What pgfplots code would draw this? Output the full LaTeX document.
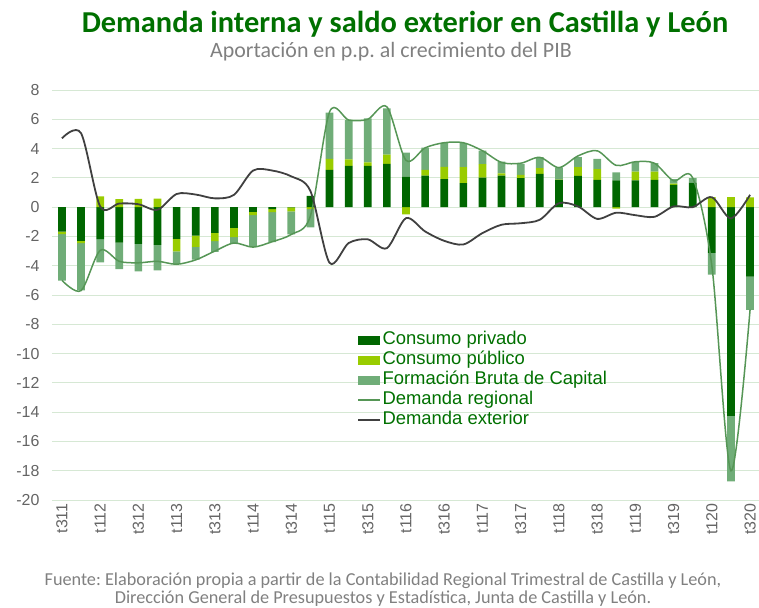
\documentclass[border=0pt]{standalone}
\usepackage{fontspec}
\setmainfont{Liberation Sans}
\newfontfamily\titlefont{Carlito}
\usepackage{pgfplots}
\pgfplotsset{compat=1.18}
\usepackage{pgfplotstable}
\frenchspacing

\definecolor{cpc}{RGB}{0,102,0}
\definecolor{cgc}{RGB}{153,204,0}
\definecolor{fbcc}{RGB}{112,173,120}
\definecolor{regc}{RGB}{86,150,86}
\definecolor{extc}{RGB}{64,64,64}
\definecolor{gridc}{RGB}{214,232,212}
\definecolor{labc}{RGB}{100,100,100}
\definecolor{legc}{RGB}{0,112,0}
\definecolor{titc}{RGB}{0,112,0}
\definecolor{subc}{RGB}{128,128,128}

\pgfplotstableread{
i  cp     cg     fbc    reg    ext
0  -1.68  -0.16  -3.18  -5.0   4.7
1  -2.30  -0.16  -3.22  -5.7   5.05
2  -2.18   0.73  -1.60  -2.95  0.05
3  -2.43   0.55  -1.80  -3.7   0.25
4  -2.50   0.57  -1.89  -3.8   0.2
5  -2.57   0.59  -1.75  -3.7  -0.18
6  -2.16  -0.86  -0.86  -3.9   0.9
7  -1.95  -0.77  -0.86  -3.6   0.86
8  -1.75  -0.57  -0.73  -3.0   0.6
9  -1.41  -0.64  -0.45  -2.45  0.84
10 -0.32  -0.23  -2.18  -2.73  2.5
11 -0.14  -0.20  -2.05  -2.36  2.5
12 -0.02  -0.27  -1.57  -1.86  2.1
13  0.77  -0.14  -1.25  -0.6   1.1
14  2.55   0.75   3.16   6.5  -3.8
15  2.82   0.45   2.68   5.95 -2.45
16  2.82   0.23   3.02   6.0  -2.2
17  2.95   0.64   3.16   6.85 -2.8
18  2.09  -0.50   1.64   3.2  -0.75
19  2.16   0.39   1.52   4.05 -1.66
20  1.91   0.84   1.64   4.4  -2.3
21  1.64   1.09   1.64   4.4  -2.55
22  2.02   0.91   0.93   3.85 -1.77
23  2.16   0.14   0.80   3.05 -1.2
24  1.98   0.23   0.75   3.0  -1.1
25  2.27   0.39   0.75   3.4  -0.86
26  1.86   0.02   0.84   2.7   0.27
27  2.14   0.59   0.68   3.5   0.05
28  1.86   0.73   0.70   3.85 -0.8
29  1.82  -0.10   0.55   2.85 -0.38
30  1.82   0.61   0.68   3.1  -0.55
31  1.86   0.57   0.57   3.0  -0.66
32  1.52   0.09   0.30   1.8   0.05
33  1.68   0.00   0.30   2.0   0.0
34 -3.12   0.68  -1.48  -4.0   0.68
35 -14.25  0.68  -4.48 -18.0  -0.77
36 -4.75   0.66  -2.27  -7.0   0.84
}\data

\pgfplotsset{
  base/.style={
    scale only axis, width=708bp, height=410bp,
    xmin=-0.52, xmax=36.52, ymin=-20, ymax=8,
    at={(52bp,-500bp)}, anchor=south west,
  },
  barsty/.style={ybar stacked, bar width=7.7bp},
  barleg/.style={legend image code/.code={\fill[#1] (0bp,-4.5bp) rectangle (22bp,4.5bp);}},
  lineleg/.style={legend image code/.code={\draw[#1] (0bp,0bp) -- (22bp,0bp);}},
}

\begin{document}
\begin{tikzpicture}
\path[use as bounding box] (0,0) rectangle (759bp,-608bp);

% axis 1: grid, tick labels, negative bars
\begin{axis}[base, barsty,
  axis line style={draw=none},
  major tick length=0pt,
  ytick={-20,-18,...,8},
  ymajorgrids, grid style={gridc, line width=1bp},
  xtick={0,2,...,36},
  xticklabels={t311,t112,t312,t113,t313,t114,t314,t115,t315,t116,t316,t117,t317,t118,t318,t119,t319,t120,t320},
  tick label style={font=\fontsize{16}{16}\selectfont, text=labc},
  /pgf/number format/assume math mode=true,
  yticklabel style={xshift=-9bp},
  xticklabel style={rotate=90, anchor=east},
]
\addplot[fill=cpc, draw=none] table[x=i, y expr={min(\thisrow{cp},0)}] {\data};
\addplot[fill=cgc, draw=none] table[x=i, y expr={min(\thisrow{cg},0)}] {\data};
\addplot[fill=fbcc, draw=none] table[x=i, y expr={min(\thisrow{fbc},0)}] {\data};
\end{axis}

% axis 2: positive bars
\begin{axis}[base, barsty, hide axis]
\addplot[fill=cpc, draw=none] table[x=i, y expr={max(\thisrow{cp},0)}] {\data};
\addplot[fill=cgc, draw=none] table[x=i, y expr={max(\thisrow{cg},0)}] {\data};
\addplot[fill=fbcc, draw=none] table[x=i, y expr={max(\thisrow{fbc},0)}] {\data};
\end{axis}

% axis 3: lines and legend
\begin{axis}[base, hide axis,
  legend style={at={(axis cs:15.44,-8.4)}, anchor=north west, draw=none, fill=none,
    font=\fontsize{18.5}{18.5}\selectfont, text=legc, inner sep=0pt, row sep=0.5bp,
    nodes={inner sep=1.5bp, text height=13bp, text depth=3.5bp}},
  legend cell align=left,
]
\addlegendimage{barleg, fill=cpc, draw=none}
\addlegendentry{Consumo privado}
\addlegendimage{barleg, fill=cgc, draw=none}
\addlegendentry{Consumo público}
\addlegendimage{barleg, fill=fbcc, draw=none}
\addlegendentry{Formación Bruta de Capital}
\addplot[regc, line width=1.5bp, smooth, lineleg] table[x=i, y=reg] {\data};
\addlegendentry{Demanda regional}
\addplot[extc, line width=1.8bp, smooth, lineleg] table[x=i, y=ext] {\data};
\addlegendentry{Demanda exterior}
\end{axis}

\node[anchor=base, inner sep=0pt, font=\titlefont\bfseries\fontsize{30.5}{30.5}\selectfont, text=titc] at (405bp,-32bp) {Demanda interna y saldo exterior en Castilla y León};
\node[anchor=base, inner sep=0pt, font=\titlefont\fontsize{22}{22}\selectfont, text=subc] at (391bp,-57bp) {Aportación en p.p. al crecimiento del PIB};
\node[anchor=base, inner sep=0pt, font=\titlefont\fontsize{18.3}{18.3}\selectfont, text=subc] at (383bp,-585bp) {Fuente: Elaboración propia a partir de la Contabilidad Regional Trimestral de Castilla y León,};
\node[anchor=base, inner sep=0pt, font=\titlefont\fontsize{18.3}{18.3}\selectfont, text=subc] at (383bp,-603.5bp) {Dirección General de Presupuestos y Estadística, Junta de Castilla y León.};
\end{tikzpicture}
\end{document}
